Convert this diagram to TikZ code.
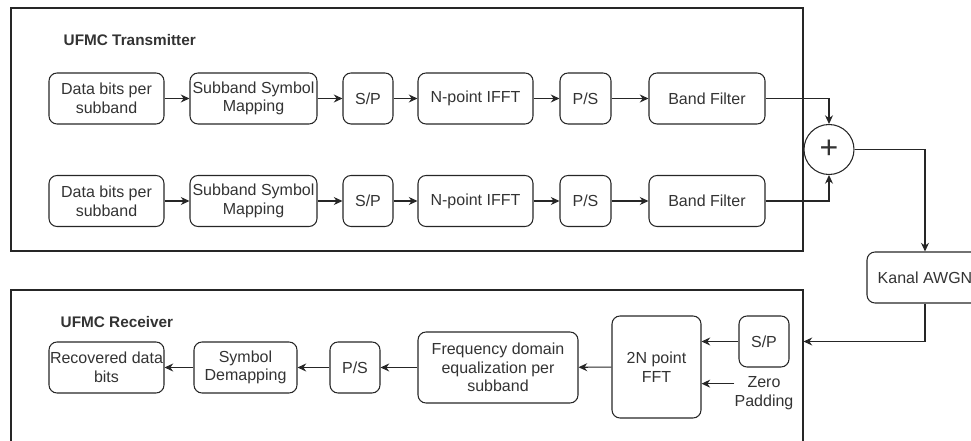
\documentclass[tikz,border=0pt]{standalone}
\usepackage{fontspec}
\setmainfont{Liberation Sans}
\usetikzlibrary{arrows.meta}
\tikzset{
  every picture/.style={draw=black!85, text=black!80},
  blk/.style={draw, rounded corners=6pt, line width=0.8pt, minimum height=38.25pt,
    align=center, inner xsep=0pt, font=\fontsize{12pt}{14pt}\selectfont},
  frame/.style={draw, line width=0.8pt, inner sep=0pt},
  ttl/.style={anchor=west, font=\fontsize{11.5pt}{14pt}\selectfont\bfseries},
  sum/.style={draw, circle, line width=0.8pt, minimum size=37.5pt, inner sep=0pt,
    font=\fontsize{24pt}{24pt}\selectfont},
  arr/.style={-{Stealth[length=6.5pt,width=6pt]}, line width=0.8pt}
}
\begin{document}
\begin{tikzpicture}[x=0.75pt, y=-0.75pt]
      \useasboundingbox (0,0) rectangle (971,441);
      \clip (0,0) rectangle (971,441);
      \draw
        (407,129.5) node[frame, minimum width=594pt, minimum height=182.25pt] (tx){}
        (407,380) node[frame, minimum width=594pt, minimum height=135pt] (rx){}
        (59,40) node[ttl] (txtitle){UFMC Transmitter}
        (56,322) node[ttl] (rxtitle){UFMC Receiver};
      \draw
        (106.5,98.5) node[blk, minimum width=86.25pt] (bits1){Data bits per\\subband}
        (253.5,98.5) node[blk, minimum width=95.25pt] (map1){Subband Symbol\\Mapping}
        (368,98.5) node[blk, minimum width=37.5pt] (sp1){S/P}
        (475.5,98.5) node[blk, minimum width=86.25pt] (ifft1){N-point IFFT}
        (585.5,98.5) node[blk, minimum width=38.25pt] (ps1){P/S}
        (707,98.5) node[blk, minimum width=87pt] (bf1){Band Filter}
        (106.5,201) node[blk, minimum width=86.25pt] (bits2){Data bits per\\subband}
        (253.5,201) node[blk, minimum width=95.25pt] (map2){Subband Symbol\\Mapping}
        (368,201) node[blk, minimum width=37.5pt] (sp2){S/P}
        (475.5,201) node[blk, minimum width=86.25pt] (ifft2){N-point IFFT}
        (585.5,201) node[blk, minimum width=38.25pt] (ps2){P/S}
        (707,201) node[blk, minimum width=87pt] (bf2){Band Filter}
        (829,149.5) node[sum] (add){+}
        (925,277.5) node[blk, minimum width=87pt] (awgn){Kanal AWGN};
      \draw
        (764,341.5) node[blk, minimum width=37.5pt] (sprx){S/P}
        (764,393) node[align=center, inner sep=0pt, font=\fontsize{12pt}{14pt}\selectfont] (zp){Zero\\Padding}
        (656.5,367) node[blk, minimum width=66.75pt, minimum height=76.5pt] (fft){2N point\\FFT}
        (498,367.5) node[blk, minimum width=120pt, minimum height=53.25pt] (eq){Frequency domain\\equalization per\\subband}
        (355,367.5) node[blk, minimum width=37.5pt] (psrx){P/S}
        (245.5,367.5) node[blk, minimum width=77.25pt] (demap){Symbol\\Demapping}
        (106.5,367.5) node[blk, minimum width=86.25pt] (rec){Recovered data\\bits};
      \coordinate (zpin) at ([yshift=7pt]zp.west);
      \begin{scope}[arr]
        \foreach \r in {1,2} {
          \draw (bits\r) to (map\r);
          \draw (map\r) to (sp\r);
          \draw (sp\r) to (ifft\r);
          \draw (ifft\r) to (ps\r);
          \draw (ps\r) to (bf\r);
        }
        \draw (bf1.east) -| (add.north);
        \draw (bf2.east) -| (add.south);
        \draw (add.east) -| (awgn.north);
        \draw (awgn.south) |- (rx.east |- sprx);
        \draw (sprx.west) to (fft.east |- sprx);
        \draw (zpin) to (fft.east |- zpin);
        \draw (fft) to (eq);
        \draw (eq) to (psrx);
        \draw (psrx) to (demap);
        \draw (demap) to (rec);
      \end{scope}
\end{tikzpicture}
\end{document}
